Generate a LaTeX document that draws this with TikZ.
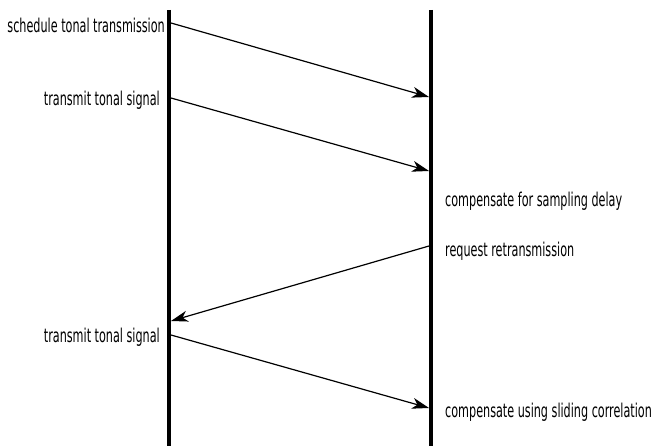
\documentclass[tikz,border=0pt]{standalone}
\usepackage{fontspec}
\setmainfont{DejaVu Sans}[FakeStretch=0.59]
\usetikzlibrary{arrows.meta}
\begin{document}
\begin{tikzpicture}[x=1pt,y=-1pt,
  lifeline/.style={line width=4pt},
  msg/.style={line width=1.2pt,-{Stealth[length=17pt,width=11pt,inset=5pt]}},
  leftlabel/.style={anchor=east,inner sep=0pt,font=\fontsize{19}{21}\selectfont},
  rightlabel/.style={anchor=west,inner sep=0pt,font=\fontsize{19}{21}\selectfont}]
\useasboundingbox (0,0) rectangle (654,446);
% lifelines
\coordinate (Ltop) at (169,10);
\coordinate (Lbot) at (169,446);
\coordinate (Rtop) at (431,10);
\coordinate (Rbot) at (431,446);
\draw[lifeline] (Ltop) -- (Lbot);
\draw[lifeline] (Rtop) -- (Rbot);
% message end points
\coordinate (a1) at (171,23);
\coordinate (b1) at (429,97);
\coordinate (a2) at (171,98);
\coordinate (b2) at (429,171);
\coordinate (b3) at (429,246);
\coordinate (a3) at (171,321);
\coordinate (a4) at (171,335);
\coordinate (b4) at (429,408);
% labels
\node[leftlabel] (t1) at (165,25) {schedule tonal transmission};
\node[leftlabel] (t2) at (160,100) {transmit tonal signal};
\node[rightlabel] (t3) at (445,201) {compensate for sampling delay};
\node[rightlabel] (t4) at (445,251) {request retransmission};
\node[leftlabel] (t5) at (160,337) {transmit tonal signal};
\node[rightlabel] (t6) at (445,412) {compensate using sliding correlation};
% messages
\draw[msg] (a1) -- (b1);
\draw[msg] (a2) -- (b2);
\draw[msg] (b3) -- (a3);
\draw[msg] (a4) -- (b4);
\end{tikzpicture}
\end{document}
